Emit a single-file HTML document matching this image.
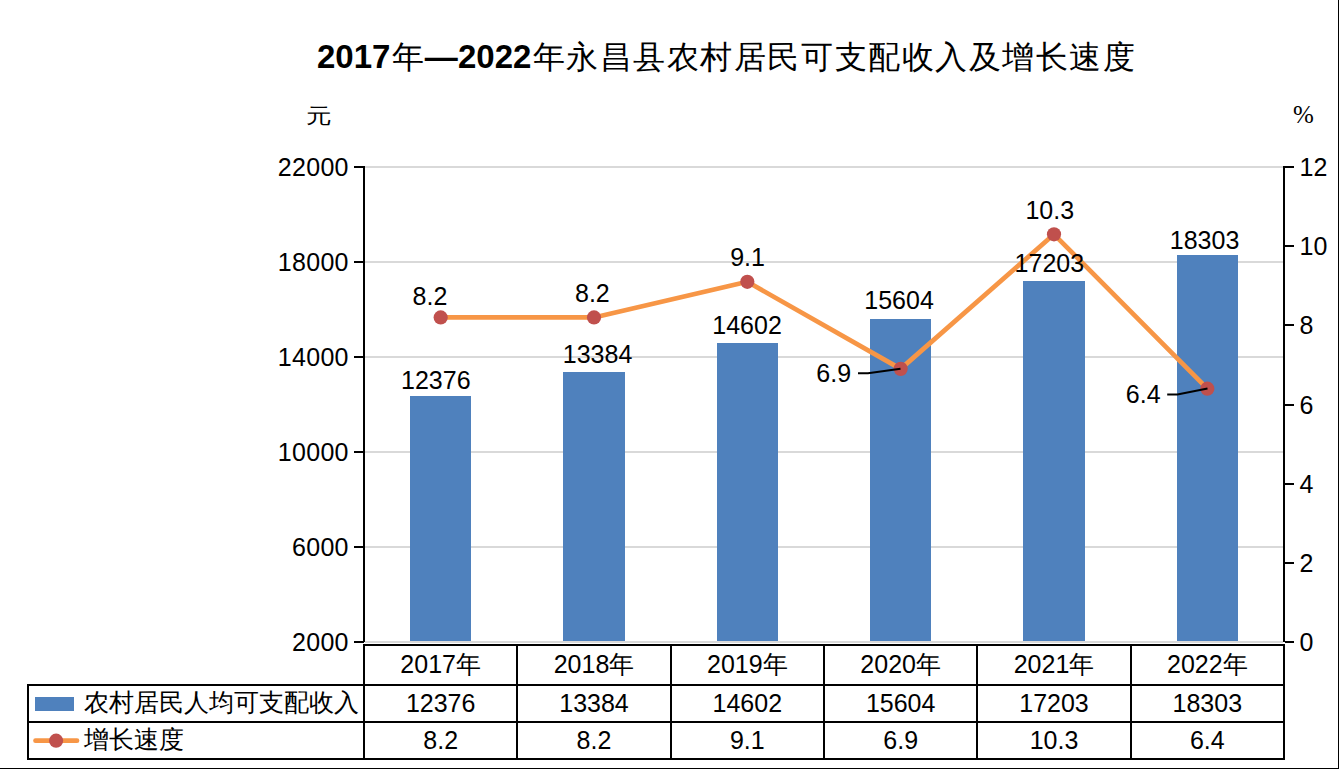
<!DOCTYPE html><html><head><meta charset="utf-8"><style>html,body{margin:0;padding:0;background:#fff;width:1339px;height:769px;overflow:hidden}svg{display:block}text{font-family:"Liberation Sans",sans-serif;fill:#000}</style></head><body>
<svg width="1339" height="769" viewBox="0 0 1339 769">
<rect x="1338" y="0" width="1" height="769" fill="#000"/>
<rect x="0" y="768" width="1339" height="1" fill="#000"/>
<text x="317" y="68" font-size="33" font-weight="bold">2017</text>
<text x="407.6" y="67.5" font-size="31.5" text-anchor="middle" font-weight="500">年</text>
<text x="424.7" y="68" font-size="33" font-weight="bold">—</text>
<text x="458" y="68" font-size="33" font-weight="bold">2022</text>
<text x="548.50 582.06 615.62 649.18 682.74 716.30 749.86 783.42 816.98 850.54 884.10 917.66 951.22 984.78 1018.34 1051.90 1085.46 1119.02" y="67.5" font-size="31.5" text-anchor="middle" font-weight="500">年永昌县农村居民可支配收入及增长速度</text>
<text x="0" y="0" font-size="24" transform="translate(306.1,123.3) scale(1.05,0.86)">元</text>
<text x="1293" y="122.5" font-size="25" style="font-family:'Liberation Serif',serif">%</text>
<rect x="365" y="166" width="918" height="2" fill="#d9d9d9"/>
<rect x="365" y="261" width="918" height="2" fill="#d9d9d9"/>
<rect x="365" y="356" width="918" height="2" fill="#d9d9d9"/>
<rect x="365" y="451" width="918" height="2" fill="#d9d9d9"/>
<rect x="365" y="546" width="918" height="2" fill="#d9d9d9"/>
<rect x="365" y="641" width="918" height="2" fill="#d9d9d9"/>
<rect x="410" y="396.00" width="61" height="245.00" fill="#4f81bd"/>
<rect x="563" y="372.00" width="62" height="269.00" fill="#4f81bd"/>
<rect x="717" y="343.00" width="61" height="298.00" fill="#4f81bd"/>
<rect x="870" y="319.00" width="61" height="322.00" fill="#4f81bd"/>
<rect x="1023" y="281.00" width="62" height="360.00" fill="#4f81bd"/>
<rect x="1177" y="255.00" width="61" height="386.00" fill="#4f81bd"/>
<rect x="363" y="166" width="2" height="476" fill="#000"/>
<rect x="1283" y="166" width="2" height="476" fill="#000"/>
<rect x="354" y="166" width="10" height="2" fill="#000"/>
<text x="348.8" y="176.0" font-size="25" text-anchor="end" letter-spacing="0.3">22000</text>
<rect x="354" y="261" width="10" height="2" fill="#000"/>
<text x="348.8" y="271.0" font-size="25" text-anchor="end" letter-spacing="0.3">18000</text>
<rect x="354" y="356" width="10" height="2" fill="#000"/>
<text x="348.8" y="366.0" font-size="25" text-anchor="end" letter-spacing="0.3">14000</text>
<rect x="354" y="451" width="10" height="2" fill="#000"/>
<text x="348.8" y="461.0" font-size="25" text-anchor="end" letter-spacing="0.3">10000</text>
<rect x="354" y="546" width="10" height="2" fill="#000"/>
<text x="348.8" y="556.0" font-size="25" text-anchor="end" letter-spacing="0.3">6000</text>
<rect x="354" y="641" width="10" height="2" fill="#000"/>
<text x="348.8" y="651.0" font-size="25" text-anchor="end" letter-spacing="0.3">2000</text>
<rect x="1285" y="166" width="9" height="2" fill="#000"/>
<text x="1299.5" y="175.5" font-size="25">12</text>
<rect x="1285" y="245" width="9" height="2" fill="#000"/>
<text x="1299.5" y="254.5" font-size="25">10</text>
<rect x="1285" y="324" width="9" height="2" fill="#000"/>
<text x="1299.5" y="333.5" font-size="25">8</text>
<rect x="1285" y="404" width="9" height="2" fill="#000"/>
<text x="1299.5" y="413.5" font-size="25">6</text>
<rect x="1285" y="483" width="9" height="2" fill="#000"/>
<text x="1299.5" y="492.5" font-size="25">4</text>
<rect x="1285" y="562" width="9" height="2" fill="#000"/>
<text x="1299.5" y="571.5" font-size="25">2</text>
<rect x="1285" y="641" width="9" height="2" fill="#000"/>
<text x="1299.5" y="650.5" font-size="25">0</text>
<polyline points="440.67,317.42 594.00,317.42 747.33,281.79 900.67,368.87 1054.00,234.29 1207.33,388.67" fill="none" stroke="#f79646" stroke-width="4.7" stroke-linejoin="round" stroke-linecap="round"/>
<circle cx="440.67" cy="317.42" r="7.1" fill="#c0504d"/>
<circle cx="594.00" cy="317.42" r="7.1" fill="#c0504d"/>
<circle cx="747.33" cy="281.79" r="7.1" fill="#c0504d"/>
<circle cx="900.67" cy="368.87" r="7.1" fill="#c0504d"/>
<circle cx="1054.00" cy="234.29" r="7.1" fill="#c0504d"/>
<circle cx="1207.33" cy="388.67" r="7.1" fill="#c0504d"/>
<path d="M858,373.3 L868,373.3 L900.5,368.7" fill="none" stroke="#000" stroke-width="2"/>
<path d="M1167.2,394.4 L1177.4,394.4 L1207.5,388.6" fill="none" stroke="#000" stroke-width="2"/>
<text x="435.80" y="389.0" font-size="25" text-anchor="middle">12376</text>
<text x="597.55" y="363.0" font-size="25" text-anchor="middle">13384</text>
<text x="747.05" y="334.0" font-size="25" text-anchor="middle">14602</text>
<text x="899.05" y="309.0" font-size="25" text-anchor="middle">15604</text>
<text x="1049.35" y="272.0" font-size="25" text-anchor="middle">17203</text>
<text x="1204.55" y="249.0" font-size="25" text-anchor="middle">18303</text>
<text x="430.00" y="305.0" font-size="25" text-anchor="middle">8.2</text>
<text x="592.40" y="302.0" font-size="25" text-anchor="middle">8.2</text>
<text x="747.60" y="266.0" font-size="25" text-anchor="middle">9.1</text>
<text x="833.75" y="382.0" font-size="25" text-anchor="middle">6.9</text>
<text x="1049.75" y="219.0" font-size="25" text-anchor="middle">10.3</text>
<text x="1143.25" y="403.0" font-size="25" text-anchor="middle">6.4</text>
<rect x="363" y="644" width="922" height="2" fill="#000"/>
<rect x="27" y="684" width="1258" height="2" fill="#000"/>
<rect x="27" y="721" width="1258" height="2" fill="#000"/>
<rect x="27" y="758" width="1258" height="2" fill="#000"/>
<rect x="27" y="684" width="2" height="76" fill="#000"/>
<rect x="363" y="644" width="2" height="116" fill="#000"/>
<rect x="1283" y="644" width="2" height="116" fill="#000"/>
<rect x="516" y="644" width="2" height="116" fill="#000"/>
<rect x="670" y="644" width="2" height="116" fill="#000"/>
<rect x="823" y="644" width="2" height="116" fill="#000"/>
<rect x="976" y="644" width="2" height="116" fill="#000"/>
<rect x="1130" y="644" width="2" height="116" fill="#000"/>
<text x="440.67" y="673" font-size="25" text-anchor="middle">2017年</text>
<text x="440.67" y="712" font-size="25" text-anchor="middle">12376</text>
<text x="440.67" y="749" font-size="25" text-anchor="middle">8.2</text>
<text x="594.00" y="673" font-size="25" text-anchor="middle">2018年</text>
<text x="594.00" y="712" font-size="25" text-anchor="middle">13384</text>
<text x="594.00" y="749" font-size="25" text-anchor="middle">8.2</text>
<text x="747.33" y="673" font-size="25" text-anchor="middle">2019年</text>
<text x="747.33" y="712" font-size="25" text-anchor="middle">14602</text>
<text x="747.33" y="749" font-size="25" text-anchor="middle">9.1</text>
<text x="900.67" y="673" font-size="25" text-anchor="middle">2020年</text>
<text x="900.67" y="712" font-size="25" text-anchor="middle">15604</text>
<text x="900.67" y="749" font-size="25" text-anchor="middle">6.9</text>
<text x="1054.00" y="673" font-size="25" text-anchor="middle">2021年</text>
<text x="1054.00" y="712" font-size="25" text-anchor="middle">17203</text>
<text x="1054.00" y="749" font-size="25" text-anchor="middle">10.3</text>
<text x="1207.33" y="673" font-size="25" text-anchor="middle">2022年</text>
<text x="1207.33" y="712" font-size="25" text-anchor="middle">18303</text>
<text x="1207.33" y="749" font-size="25" text-anchor="middle">6.4</text>
<rect x="35" y="697" width="39" height="14" fill="#4f81bd"/>
<line x1="35.5" y1="740.7" x2="77" y2="740.7" stroke="#f79646" stroke-width="4.7" stroke-linecap="round"/>
<circle cx="56.1" cy="740.7" r="7.1" fill="#c0504d"/>
<text x="84" y="711" font-size="25">农村居民人均可支配收入</text>
<text x="84" y="748" font-size="25">增长速度</text>
</svg></body></html>
